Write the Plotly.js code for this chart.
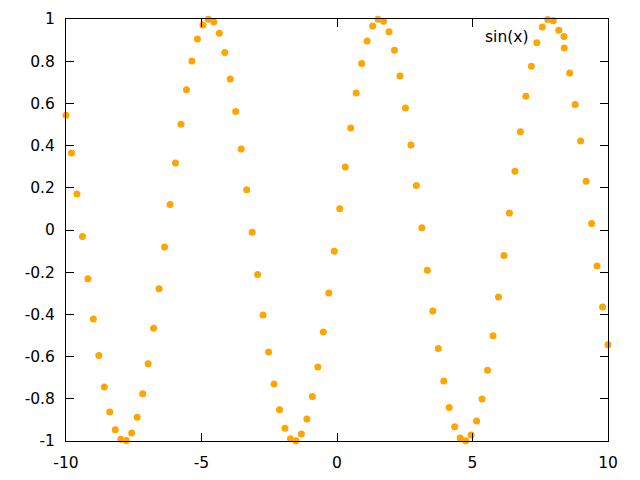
<!DOCTYPE html>
<html>
<head>
<meta charset="utf-8">
<script src="https://cdn.plot.ly/plotly-3.0.1.min.js"></script>
<style>html,body{margin:0;padding:0;background:#fff;}#chart{width:640px;height:480px;}</style>
</head>
<body>
<div id="chart"></div>
<script>
const xValues = [
 -10, -9.7980, -9.5960, -9.3939, -9.1919, -8.9899, -8.7879, -8.5859, -8.3838, -8.1818,
 -7.9798, -7.7778, -7.5758, -7.3737, -7.1717, -6.9697, -6.7677, -6.5657, -6.3636, -6.1616,
 -5.9596, -5.7576, -5.5556, -5.3535, -5.1515, -4.9495, -4.7475, -4.5455, -4.3434, -4.1414,
 -3.9394, -3.7374, -3.5354, -3.3333, -3.1313, -2.9293, -2.7273, -2.5253, -2.3232, -2.1212,
 -1.9192, -1.7172, -1.5152, -1.3131, -1.1111, -0.9091, -0.7071, -0.5051, -0.3030, -0.1010,
 0.1010, 0.3030, 0.5051, 0.7071, 0.9091, 1.1111, 1.3131, 1.5152, 1.7172, 1.9192,
 2.1212, 2.3232, 2.5253, 2.7273, 2.9293, 3.1313, 3.3333, 3.5354, 3.7374, 3.9394,
 4.1414, 4.3434, 4.5455, 4.7475, 4.9495, 5.1515, 5.3535, 5.5556, 5.7576, 5.9596,
 6.1616, 6.3636, 6.5657, 6.7677, 6.9697, 7.1717, 7.3737, 7.5758, 7.7778, 7.9798,
 8.1818, 8.3838, 8.5859, 8.7879, 8.9899, 9.1919, 9.3939, 9.5960, 9.7980, 10
];
const sinValues = [
 0.5440, 0.3646, 0.1703, -0.0308, -0.2308, -0.4213, -0.5947, -0.7439, -0.8629, -0.9467,
 -0.9921, -0.9971, -0.9615, -0.8869, -0.7761, -0.6338, -0.4658, -0.2787, -0.0804, 0.1213,
 0.3180, 0.5017, 0.6651, 0.8014, 0.9051, 0.9720, 0.9994, 0.9861, 0.9327, 0.8414,
 0.7158, 0.5612, 0.3837, 0.1906, -0.0103, -0.2107, -0.4026, -0.5780, -0.7300, -0.8523,
 -0.9399, -0.9893, -0.9985, -0.9670, -0.8962, -0.7890, -0.6496, -0.4839, -0.2984, -0.1008,
 0.1008, 0.2984, 0.4839, 0.6496, 0.7890, 0.8962, 0.9670, 0.9985, 0.9893, 0.9399,
 0.8523, 0.7300, 0.5780, 0.4026, 0.2107, 0.0103, -0.1906, -0.3837, -0.5612, -0.7158,
 -0.8414, -0.9327, -0.9861, -0.9994, -0.9720, -0.9051, -0.8014, -0.6651, -0.5017, -0.3180,
 -0.1213, 0.0804, 0.2787, 0.4658, 0.6338, 0.7761, 0.8869, 0.9615, 0.9971, 0.9921,
 0.9467, 0.8629, 0.7439, 0.5947, 0.4213, 0.2308, 0.0308, -0.1703, -0.3646, -0.5440
];
const seriesName = 'sin(x)';
const xTickVals = [-10, -5, 0, 5, 10];
const xTickText = ['-10', '-5', '0', '5', '10'];
const yTickVals = [-1, -0.8, -0.6, -0.4, -0.2, 0, 0.2, 0.4, 0.6, 0.8, 1];
const yTickText = ['-1', '-0.8', '-0.6', '-0.4', '-0.2', '0', '0.2', '0.4', '0.6', '0.8', '1'];

const color = '#FFA500';
const font = {family: 'DejaVu Sans', size: 15.5, color: '#000'};

const trace = {
  x: xValues, y: sinValues, type: 'scatter', mode: 'markers', name: seriesName,
  marker: {color: color, size: 7}, cliponaxis: false, showlegend: false
};

const axisCommon = {
  showgrid: false, zeroline: false, showline: true, linecolor: '#000', linewidth: 1,
  mirror: 'ticks', ticks: 'inside', ticklen: 8, tickcolor: '#000', tickwidth: 1,
  tickfont: font, fixedrange: true
};

const layout = {
  width: 640, height: 480,
  margin: {l: 66, r: 32, t: 19, b: 39},
  paper_bgcolor: '#fff', plot_bgcolor: '#fff',
  font: font,
  xaxis: Object.assign({}, axisCommon, {range: [-10, 10], tickmode: 'array', tickvals: xTickVals, ticktext: xTickText, ticklabelstandoff: 7}),
  yaxis: Object.assign({}, axisCommon, {range: [-1, 1], tickmode: 'array', tickvals: yTickVals, ticktext: yTickText}),
  annotations: [{
    xref: 'paper', yref: 'paper', x: 0.8561, y: 0.9573, xanchor: 'right', yanchor: 'middle',
    text: seriesName, showarrow: false, font: font
  }],
  shapes: [{
    type: 'circle', xref: 'paper', yref: 'paper',
    x0: 0.9188 - 0.00646, x1: 0.9188 + 0.00646, y0: 0.9585 - 0.00829, y1: 0.9585 + 0.00829,
    fillcolor: color, line: {width: 0}
  }],
  showlegend: false
};

Plotly.newPlot('chart', [trace], layout, {displayModeBar: false, staticPlot: true}).then(function () {
  try {
    // gnuplot leaves a wider gap between y labels and the frame
    document.querySelectorAll('#chart .ytick text').forEach(function (t) {
      const x = parseFloat(t.getAttribute('x') || '0');
      t.setAttribute('x', String(x - 7));
    });
  } catch (e) {}
});
</script>
</body>
</html>
